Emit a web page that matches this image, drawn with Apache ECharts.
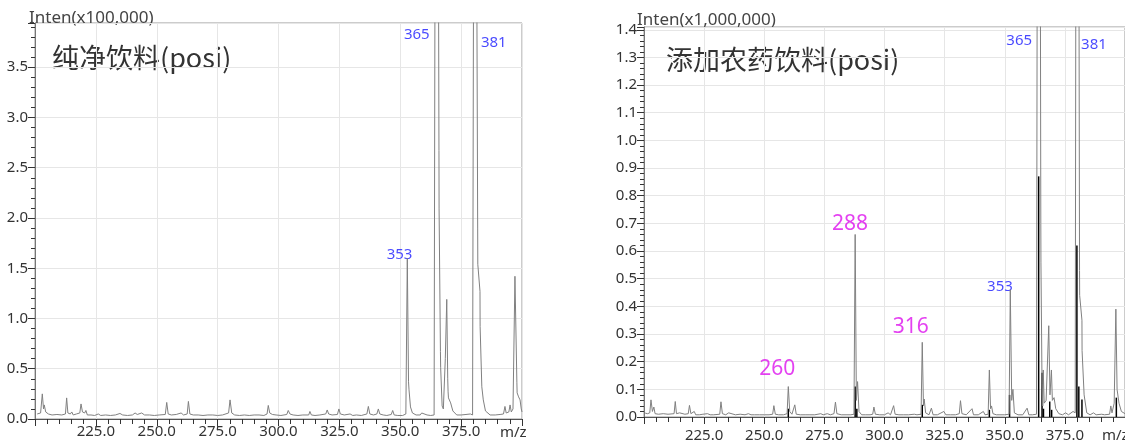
<!DOCTYPE html>
<html>
<head>
<meta charset="utf-8">
<script src="https://cdn.jsdelivr.net/npm/echarts@6/dist/echarts.min.js"></script>
<style>
  html, body { margin: 0; padding: 0; background: #fff; }
  #chart { width: 1125px; height: 444px; }
</style>
</head>
<body>
<div id="chart"></div>
<script>
  // 纯净饮料 profile, intensity x100,000
  var pureProfile = [
    [200.9, 0.05], [202.3, 0.06], [203.0, 0.25], [203.5, 0.10], [203.8, 0.14], [204.4, 0.07], [205.5, 0.05],
    [207, 0.04], [209, 0.045], [211, 0.04], [212.5, 0.05], [213.0, 0.21], [213.5, 0.06], [214.5, 0.05],
    [215.1, 0.07], [215.7, 0.04], [217, 0.05], [218.4, 0.06], [218.9, 0.15], [219.5, 0.07], [220.4, 0.06],
    [220.9, 0.085], [221.5, 0.04], [223, 0.04], [224.5, 0.035], [226.0, 0.05], [227, 0.035], [229, 0.04],
    [231, 0.035], [233, 0.04], [234.9, 0.055], [236, 0.04], [238, 0.035], [240, 0.04], [241.1, 0.06],
    [242, 0.045], [243.8, 0.06], [245, 0.04], [247, 0.04], [249, 0.035], [251, 0.04], [253.5, 0.045],
    [254.1, 0.165], [254.7, 0.05], [256, 0.04], [258, 0.045], [260.0, 0.06], [261, 0.04], [262.5, 0.05],
    [263.0, 0.175], [263.6, 0.05], [265, 0.04], [267, 0.04], [269, 0.035], [271, 0.04], [273, 0.04],
    [275, 0.035], [277, 0.04], [279.5, 0.06], [280.1, 0.19], [280.8, 0.06], [282, 0.04], [284, 0.035],
    [286, 0.04], [288, 0.035], [290, 0.04], [292, 0.04], [294, 0.035], [295.3, 0.05], [295.8, 0.135],
    [296.4, 0.06], [297.5, 0.045], [299, 0.04], [301, 0.035], [303.4, 0.045], [304.0, 0.085], [304.7, 0.05],
    [306, 0.04], [308, 0.035], [310, 0.04], [312.4, 0.04], [312.9, 0.075], [313.5, 0.04], [315, 0.035],
    [317, 0.04], [319.4, 0.05], [320.0, 0.09], [320.6, 0.05], [322, 0.04], [324.2, 0.045], [324.8, 0.10],
    [325.4, 0.05], [327, 0.04], [329.4, 0.05], [330.5, 0.035], [332, 0.04], [334, 0.035], [336.3, 0.05],
    [336.9, 0.125], [337.5, 0.05], [339, 0.04], [340.4, 0.05], [341.0, 0.10], [341.6, 0.05], [343, 0.04],
    [344.5, 0.035], [346.3, 0.045], [346.9, 0.085], [347.5, 0.04], [349, 0.035], [351, 0.035], [352.3, 0.05],
    [352.9, 1.60], [353.4, 0.37], [353.6, 0.29], [354.2, 0.12], [355, 0.06], [356.5, 0.04], [358.2, 0.04],
    [358.8, 0.06], [359.4, 0.045], [361, 0.04], [362.5, 0.035], [363.9, 0.04], [364.9, 12], [365.9, 2.67],
    [365.95, 2.09], [366.5, 0.67], [366.6, 0.51], [367.2, 0.13], [367.7, 0.10], [368.5, 0.6], [369.1, 1.19],
    [369.5, 0.4], [369.65, 0.27], [369.8, 0.21], [370.7, 0.16], [371.6, 0.08], [373.2, 0.04], [375, 0.04],
    [377, 0.045], [378.8, 0.05], [379.7, 0.04], [380.6, 10], [381.8, 1.9], [381.85, 1.54], [382.75, 1.27],
    [382.8, 0.92], [383.5, 0.32], [384.1, 0.19], [385, 0.08], [386.9, 0.04], [389, 0.04], [391, 0.045],
    [392.4, 0.05], [393.0, 0.125], [393.5, 0.06], [394.6, 0.07], [395.1, 0.14], [395.6, 0.07], [396.3, 0.1],
    [397.1, 1.42], [397.9, 0.36], [398.0, 0.26], [398.6, 0.22], [399.2, 0.19], [399.7, 0.1], [400, 0.07]
  ]

  // 添加农药饮料 profile, intensity x1,000,000
  var spikedProfile = [
    [200.5, 0.014], [201.5, 0.012], [202.4, 0.015], [202.9, 0.062], [203.5, 0.02], [204.1, 0.036], [204.6, 0.012],
    [206, 0.01], [208, 0.012], [210, 0.01], [212.5, 0.012], [213.0, 0.056], [213.5, 0.012], [214.8, 0.015],
    [215.5, 0.01], [217, 0.01], [218.4, 0.012], [218.9, 0.042], [219.5, 0.012], [220.9, 0.02], [221.5, 0.008],
    [223, 0.008], [224.5, 0.01], [226.4, 0.012], [227.5, 0.008], [229, 0.008], [231.5, 0.01], [232.0, 0.055],
    [232.6, 0.012], [234, 0.008], [235.2, 0.015], [236, 0.008], [238, 0.008], [240, 0.01], [242, 0.008],
    [243.4, 0.012], [244.5, 0.008], [246, 0.008], [248, 0.008], [250, 0.008], [252, 0.008], [253.5, 0.01],
    [254.0, 0.041], [254.6, 0.01], [256, 0.008], [258, 0.008], [259.5, 0.012], [260.0, 0.11], [260.6, 0.02],
    [261.5, 0.01], [262.2, 0.012], [262.7, 0.044], [263.3, 0.01], [265, 0.008], [267, 0.008], [269, 0.008],
    [271, 0.008], [273.5, 0.012], [274.5, 0.008], [276.2, 0.012], [277.5, 0.008], [279.0, 0.012], [279.6, 0.054],
    [280.2, 0.012], [282, 0.008], [284, 0.008], [286, 0.008], [287.3, 0.01], [287.8, 0.66], [288.3, 0.06],
    [288.8, 0.128], [289.4, 0.02], [290.5, 0.008], [292, 0.008], [294, 0.008], [295.1, 0.01], [295.6, 0.036],
    [296.2, 0.01], [298, 0.008], [300, 0.008], [301.5, 0.015], [302.5, 0.008], [303.3, 0.012], [303.8, 0.041],
    [304.4, 0.01], [306, 0.008], [308, 0.008], [310, 0.008], [312.4, 0.01], [313.5, 0.008], [315.2, 0.01],
    [315.7, 0.27], [316.2, 0.04], [316.5, 0.065], [317.1, 0.015], [318.5, 0.008], [319.5, 0.032], [320.2, 0.008],
    [322, 0.008], [324.7, 0.02], [325.5, 0.008], [327.5, 0.008], [329.5, 0.008], [331.1, 0.012], [331.6, 0.059],
    [332.2, 0.012], [334, 0.008], [336.4, 0.03], [337, 0.008], [339, 0.008], [341.1, 0.02], [341.8, 0.008],
    [343.1, 0.01], [343.6, 0.17], [344.1, 0.03], [344.5, 0.04], [345.1, 0.012], [346.5, 0.008], [348, 0.008],
    [350, 0.008], [351.8, 0.01], [352.3, 0.46], [352.9, 0.06], [353.4, 0.10], [354, 0.015], [355.5, 0.008],
    [357.5, 0.008], [359.3, 0.032], [360, 0.008], [361.5, 0.008], [363.2, 0.01], [364.1, 5], [365.0, 0.70],
    [365.05, 0.56], [365.5, 0.12], [365.8, 0.04], [366.0, 0.17], [366.4, 0.05], [367.2, 0.06], [368.3, 0.33],
    [368.8, 0.08], [369.4, 0.17], [369.8, 0.06], [370.5, 0.07], [371.2, 0.03], [372.5, 0.012], [374, 0.008],
    [375.3, 0.015], [376.5, 0.008], [378.4, 0.02], [379.3, 0.015], [380.1, 5], [381.1, 0.53], [381.15, 0.44],
    [382.1, 0.35], [382.15, 0.24], [383, 0.08], [384.1, 0.015], [385.5, 0.008], [386.9, 0.015], [388, 0.008],
    [390.3, 0.01], [391.5, 0.008], [393.6, 0.01], [394.1, 0.04], [394.6, 0.015], [395.5, 0.05], [396.2, 0.39],
    [396.7, 0.1], [397.5, 0.05], [398.5, 0.02], [400, 0.012]
  ]

  // centroid sticks in the spiked sample
  var spikedSticks = [
    [260.0, 0.03], [287.8, 0.11], [288.5, 0.03], [315.7, 0.044], [343.6, 0.026], [352.0, 0.08],
    [364.1, 0.87], [365.5, 0.16], [366.1, 0.03], [368.7, 0.056], [369.5, 0.026], [380.0, 0.62],
    [380.8, 0.11], [382.1, 0.063], [396.4, 0.07]
  ]

  // peak tags: text and anchor [m/z, intensity]
  var pureTagText = ['353', '365', '381']
  var pureTagPos = [[349.7, 1.63], [356.8, 3.82], [388.4, 3.74]]
  var spikedTagText = ['353', '365', '381']
  var spikedTagPos = [[348.0, 0.47], [356.0, 1.36], [387.1, 1.345]]
  var pesticideTagText = ['260', '288', '316']
  var pesticideTagPos = [[255.4, 0.175], [285.7, 0.697], [310.9, 0.327]]

  var xTicks = { min: 200, max: 400, interval: 25 }
  var pureMax = 3.94
  var spikedMax = 1.41

  var FONT = '"Noto Sans", "Noto Sans CJK SC", sans-serif'
  var CJK = '"Noto Sans CJK SC", "Noto Sans", sans-serif'

  function xAxisOf(gridIndex, margin) {
    return {
      type: 'value',
      gridIndex: gridIndex,
      min: xTicks.min,
      max: xTicks.max,
      interval: xTicks.interval,
      axisLine: { lineStyle: { color: '#555', width: 1 } },
      axisTick: { length: 7, lineStyle: { color: '#333' } },
      minorTick: { show: true, splitNumber: 5, length: 5, lineStyle: { color: '#333' } },
      axisLabel: {
        formatter: function (v) { return v.toFixed(1) },
        showMinLabel: false,
        showMaxLabel: false,
        margin: margin,
        fontSize: 15,
        color: '#333',
        fontFamily: FONT
      },
      splitLine: { show: true, lineStyle: { color: '#e6e6e6', type: 'solid' } }
    }
  }

  function yAxisOf(gridIndex, max, interval) {
    return {
      type: 'value',
      gridIndex: gridIndex,
      min: 0,
      max: max,
      interval: interval,
      axisLine: { show: true, lineStyle: { color: '#777' } },
      axisTick: { show: true, length: 7, lineStyle: { color: '#333' } },
      minorTick: { show: true, splitNumber: 5, length: 4, lineStyle: { color: '#333' } },
      axisLabel: {
        formatter: function (v) { return v.toFixed(1) },
        showMaxLabel: false,
        margin: 7,
        fontSize: 15,
        color: '#333',
        fontFamily: FONT
      },
      splitLine: { show: true, lineStyle: { color: '#e6e6e6', type: 'solid' } }
    }
  }

  function tagSeries(idx, text, pos, color, size) {
    return {
      type: 'scatter',
      xAxisIndex: idx,
      yAxisIndex: idx,
      symbolSize: 0,
      silent: true,
      data: pos.map(function (p, i) { return { value: p, name: text[i] } }),
      label: {
        show: true,
        position: 'inside',
        formatter: '{b}',
        color: color,
        fontSize: size,
        fontFamily: FONT
      }
    }
  }

  function textAt(x, y, text, size, family, color) {
    return {
      type: 'text',
      x: x,
      y: y,
      silent: true,
      style: { text: text, fontSize: size, fontFamily: family, fill: color, textVerticalAlign: 'top' }
    }
  }

  var chart = echarts.init(document.getElementById('chart'))
  chart.setOption({
    animation: false,
    backgroundColor: '#fff',
    grid: [
      { left: 35, top: 23, width: 487, height: 396, show: true, borderColor: '#999', borderWidth: 1 },
      { left: 644, top: 27, width: 488, height: 390, show: true, borderColor: '#999', borderWidth: 1 }
    ],
    xAxis: [xAxisOf(0, 5), xAxisOf(1, 11)],
    yAxis: [yAxisOf(0, pureMax, 0.5), yAxisOf(1, spikedMax, 0.1)],
    graphic: [
      textAt(29, 10, 'Inten(x100,000)', 17, FONT, '#444'),
      textAt(52, 44, '纯净饮料(posi)', 27, CJK, '#333'),
      textAt(500, 425, 'm/z', 15, FONT, '#333'),
      textAt(637, 12, 'Inten(x1,000,000)', 17, FONT, '#444'),
      textAt(666, 46, '添加农药饮料(posi)', 27, CJK, '#333'),
      textAt(1102, 428, 'm/z', 15, FONT, '#333')
    ],
    series: [
      {
        type: 'line',
        xAxisIndex: 0,
        yAxisIndex: 0,
        data: pureProfile,
        showSymbol: false,
        clip: true,
        lineStyle: { color: '#808080', width: 1 }
      },
      {
        type: 'line',
        xAxisIndex: 1,
        yAxisIndex: 1,
        data: spikedProfile,
        showSymbol: false,
        clip: true,
        lineStyle: { color: '#808080', width: 1 }
      },
      {
        type: 'bar',
        xAxisIndex: 1,
        yAxisIndex: 1,
        data: spikedSticks,
        barWidth: 1.5,
        itemStyle: { color: '#000' }
      },
      tagSeries(0, pureTagText, pureTagPos, '#1a1aff', 15),
      tagSeries(1, spikedTagText, spikedTagPos, '#1a1aff', 15),
      tagSeries(1, pesticideTagText, pesticideTagPos, '#dd11ee', 21)
    ]
  })
</script>
</body>
</html>
